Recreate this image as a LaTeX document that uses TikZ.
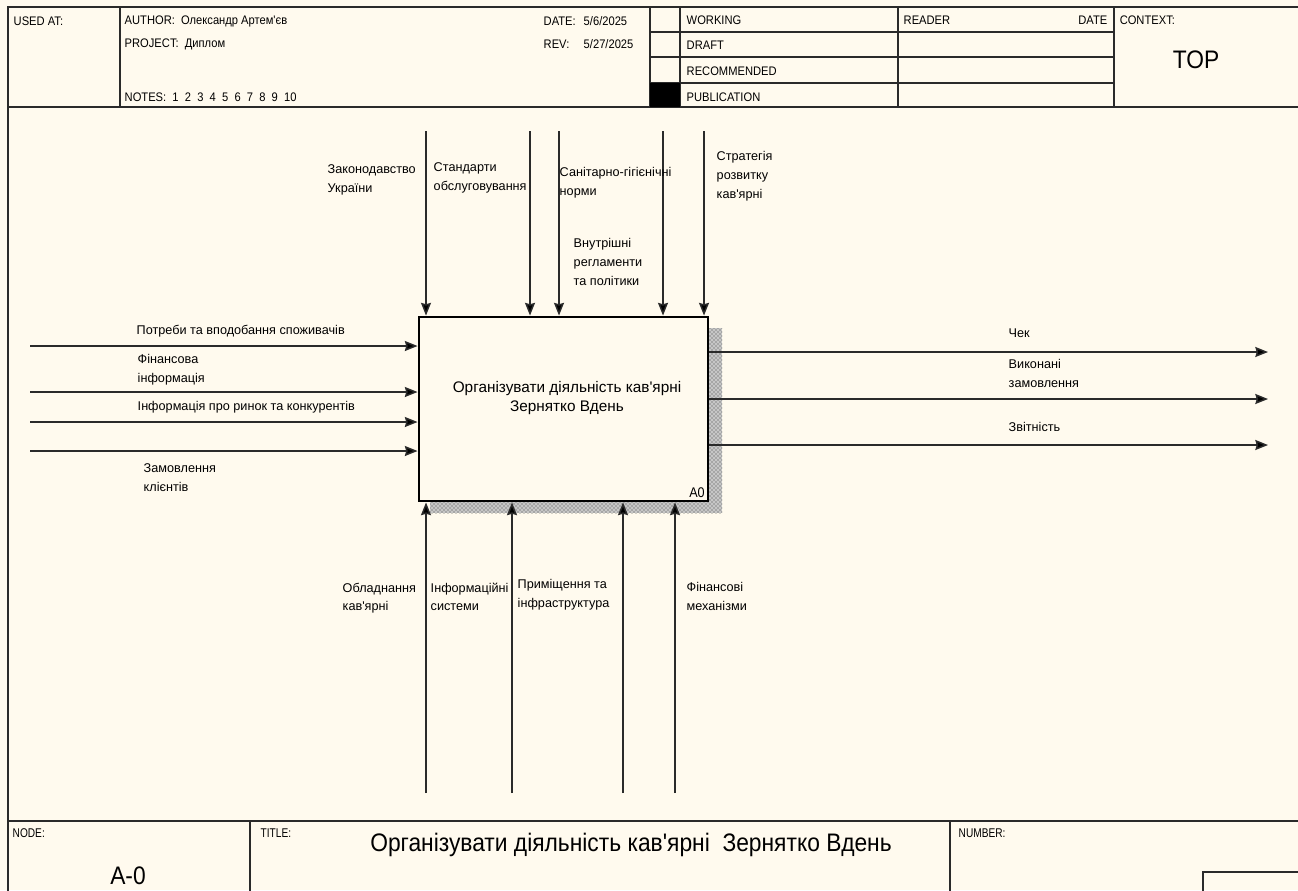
\documentclass[tikz,border=0pt]{standalone}
\usepackage{fontspec}
\newfontfamily\lbfont{Liberation Sans}
\newfontfamily\nrfont[FakeStretch=0.9]{Liberation Sans}
\newfontfamily\tgfont[FakeStretch=0.8]{Liberation Sans}
\usetikzlibrary{arrows.meta, positioning, patterns}
\definecolor{cpaper}{HTML}{FFFAEE}
\definecolor{cline}{HTML}{2A2A2A}
\definecolor{cshade}{HTML}{3C3C3C}
\tikzset{
  every picture/.style={x=0.75pt, y=-0.75pt, line width=1.1pt},
  frame/.style={draw=cline, line width=1.6pt},
  hdr/.style={font=\nrfont\fontsize{9.3}{11}\selectfont, inner sep=0pt, anchor=west},
  tag/.style={font=\tgfont\fontsize{9.5}{11}\selectfont, inner sep=0pt, anchor=west},
  bigtxt/.style={font=\nrfont\fontsize{19}{22}\selectfont, inner sep=0pt},
  lbl/.style={font=\lbfont\fontsize{9.5}{14}\selectfont, align=left, inner sep=0pt, anchor=north west},
  proc/.style={draw=black, line width=2.2pt, fill=cpaper, minimum width=216.75pt, minimum height=138pt},
  proctxt/.style={align=center, inner sep=0pt, font=\lbfont\fontsize{11.5}{14.25}\selectfont},
  arr/.style={-{Stealth[length=9.5pt, width=7.5pt, inset=1pt, fill=black]}, draw=cline, line width=1.1pt},
}

\begin{document}
\begin{tikzpicture}
  \useasboundingbox[fill=cpaper] (0,0) rectangle (1298,890);
  % frame
  \draw[frame] (8,892) -- (8,7) -- (1300,7);
  \draw[frame] (8,107) -- (1300,107);
  \draw[frame] (8,821) -- (1300,821);
  % header
  \foreach \x in {120,650,680,898,1114} \draw[frame] (\x,7) -- (\x,107);
  \foreach \y in {32,57,83} \draw[frame] (650,\y) -- (1114,\y);
  \fill[black] (650,83) rectangle (680,107);
  \node[hdr] (usedat) at (13,21) {USED AT:};
  \node[hdr] (author) at (124,21) {AUTHOR:\ \ Олександр Артем'єв};
  \node[hdr] (project) at (124,44) {PROJECT:\ \ Диплом};
  \node[hdr] (notes) at (124,97) {NOTES:\ \ 1\ \ 2\ \ 3\ \ 4\ \ 5\ \ 6\ \ 7\ \ 8\ \ 9\ \ 10};
  \node[hdr] (datelbl) at (543,21) {DATE:};
  \node[hdr] (dateval) at (583,21) {5/6/2025};
  \node[hdr] (revlbl) at (543,44) {REV:};
  \node[hdr] (revval) at (583,44) {5/27/2025};
  \node[hdr] (working) at (686,20) {WORKING};
  \node[hdr] (draft) at (686,45) {DRAFT};
  \node[hdr] (recomm) at (686,71) {RECOMMENDED};
  \node[hdr] (publ) at (686,97) {PUBLICATION};
  \node[hdr] (reader) at (903,20) {READER};
  \node[hdr, anchor=east] (rdate) at (1108,20) {DATE};
  \node[hdr] (context) at (1119,20) {CONTEXT:};
  \node[bigtxt] (ctxtop) at (1196,60) {TOP};
  % activity box
  \fill[gray!45] (430,328) rectangle (722,513);
  \fill[pattern=crosshatch dots, pattern color=cshade] (430,328) rectangle (722,513);
  \node[proc] (a0) at (563.5,409) {};
  \node[proctxt] (a0txt) at (567,398) {Організувати діяльність кав'ярні\\Зернятко Вдень};
  \node[font=\nrfont\fontsize{10.5}{12}\selectfont, inner sep=0pt, anchor=south east] (a0num)
    at ([shift={(-4,-4)}]a0.south east) {A0};
  % controls
  \foreach \x [count=\i] in {426,530,559,663,704}{
    \coordinate (ctl\i) at (\x,131);
    \draw[arr] (ctl\i) -- (ctl\i |- a0.north);
  }
  \node[lbl] (lzak) at (327,164) {Законодавство\\України};
  \node[lbl] (lstd) at (433,162) {Стандарти\\обслуговування};
  \node[lbl] (lsan) at (559,167) {Санітарно-гігієнічні\\норми};
  \node[lbl] (lstr) at (716,151) {Стратегія\\розвитку\\кав'ярні};
  \node[lbl] (lvnu) at (573,238) {Внутрішні\\регламенти\\та політики};
  % inputs
  \foreach \y [count=\i] in {346,392,422,451}{
    \coordinate (in\i) at (30,\y);
    \draw[arr] (in\i) -- (in\i -| a0.west);
  }
  \node[lbl] (lpot) at (136,324) {Потреби та вподобання споживачів};
  \node[lbl] (lfin) at (137,354) {Фінансова\\інформація};
  \node[lbl] (lrin) at (137,401) {Інформація про ринок та конкурентів};
  \node[lbl] (lzam) at (143,463) {Замовлення\\клієнтів};
  % outputs
  \foreach \y [count=\i] in {352,399,445}{
    \coordinate (out\i) at (1268,\y);
    \draw[arr] (a0.east |- out\i) -- (out\i);
  }
  \node[lbl] (lchk) at (1008,328) {Чек};
  \node[lbl] (lvyk) at (1008,359) {Виконані\\замовлення};
  \node[lbl] (lzvt) at (1008,422) {Звітність};
  % mechanisms
  \foreach \x [count=\i] in {426,512,623,675}{
    \coordinate (mech\i) at (\x,793);
    \draw[arr] (mech\i) -- (mech\i |- a0.south);
  }
  \node[lbl] (lobl) at (342,582) {Обладнання\\кав'ярні};
  \node[lbl] (linf) at (430,582) {Інформаційні\\системи};
  \node[lbl] (lpry) at (517,579) {Приміщення та\\інфраструктура};
  \node[lbl] (lfnm) at (686,582) {Фінансові\\механізми};
  % footer
  \draw[frame] (250,821) -- (250,892);
  \draw[frame] (950,821) -- (950,892);
  \draw[frame] (1203,892) -- (1203,872) -- (1300,872);
  \node[tag] (nodelbl) at (12,833) {NODE:};
  \node[bigtxt] (nodeid) at (128,876) {A-0};
  \node[tag] (titlelbl) at (260,833) {TITLE:};
  \node[bigtxt] (titletxt) at (631,845) {Організувати діяльність кав'ярні\ \ Зернятко Вдень};
  \node[tag] (numlbl) at (958,833) {NUMBER:};
\end{tikzpicture}
\end{document}
